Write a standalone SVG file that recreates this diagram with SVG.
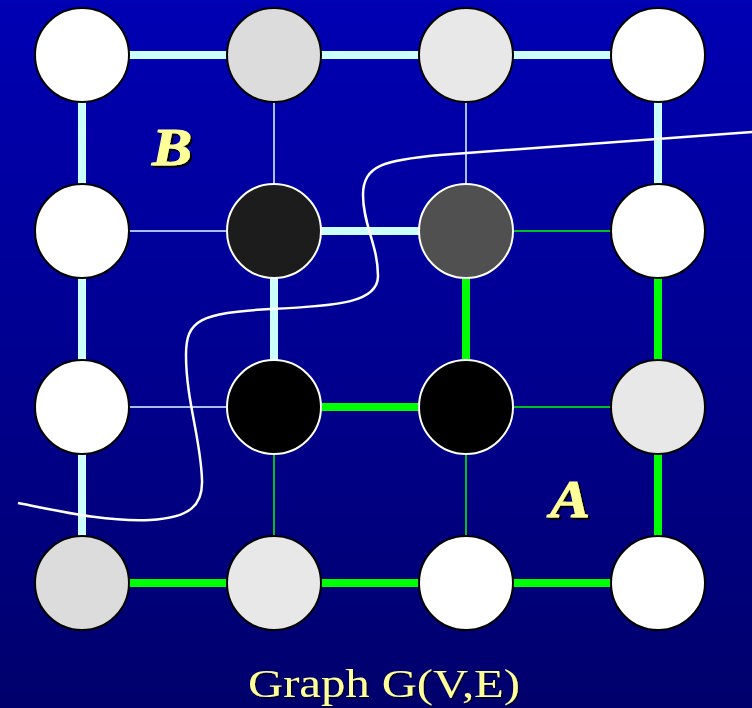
<svg xmlns="http://www.w3.org/2000/svg" width="752" height="708" viewBox="0 0 752 708">
<defs>
<linearGradient id="bg" x1="0" y1="0" x2="0" y2="1">
<stop offset="0" stop-color="#0000B4"/>
<stop offset="1" stop-color="#00006C"/>
</linearGradient>
<filter id="sh" x="-20%" y="-20%" width="150%" height="150%">
<feDropShadow dx="2" dy="2" stdDeviation="0" flood-color="#000000" flood-opacity="1"/>
</filter>
<filter id="sh2" x="-5%" y="-20%" width="110%" height="150%">
<feDropShadow dx="1.5" dy="1.5" stdDeviation="0.5" flood-color="#000022" flood-opacity="0.8"/>
</filter>
</defs>
<style>
.tc{stroke:#CCFFFF;stroke-width:8}
.tg{stroke:#00FF00;stroke-width:8}
.nc{stroke:#DDFFFF;stroke-width:1.5}
.ng{stroke:#00FF00;stroke-width:1.5}
.lt{stroke:#000000;stroke-width:2}
.dk{stroke:#FFFFFF;stroke-width:2}
.lbl{font-family:"Liberation Serif",serif;font-weight:bold;font-style:italic;font-size:52px;fill:#FFFF99;stroke:#FFFF99;stroke-width:1}
.cap{font-family:"Liberation Serif",serif;font-size:40px;fill:#FFFF99}
</style>
<rect width="752" height="708" fill="url(#bg)"/>
<g id="edges">
<line class="tc" x1="82" y1="55" x2="274" y2="55"/>
<line class="tc" x1="274" y1="55" x2="466" y2="55"/>
<line class="tc" x1="466" y1="55" x2="658" y2="55"/>
<line class="nc" x1="82" y1="231" x2="274" y2="231"/>
<line class="tc" x1="274" y1="231" x2="466" y2="231"/>
<line class="ng" x1="466" y1="231" x2="658" y2="231"/>
<line class="nc" x1="82" y1="407" x2="274" y2="407"/>
<line class="tg" x1="274" y1="407" x2="466" y2="407"/>
<line class="ng" x1="466" y1="407" x2="658" y2="407"/>
<line class="tg" x1="82" y1="583" x2="274" y2="583"/>
<line class="tg" x1="274" y1="583" x2="466" y2="583"/>
<line class="tg" x1="466" y1="583" x2="658" y2="583"/>
<line class="tc" x1="82" y1="55" x2="82" y2="231"/>
<line class="tc" x1="82" y1="231" x2="82" y2="407"/>
<line class="tc" x1="82" y1="407" x2="82" y2="583"/>
<line class="nc" x1="274" y1="55" x2="274" y2="231"/>
<line class="tc" x1="274" y1="231" x2="274" y2="407"/>
<line class="ng" x1="274" y1="407" x2="274" y2="583"/>
<line class="nc" x1="466" y1="55" x2="466" y2="231"/>
<line class="tg" x1="466" y1="231" x2="466" y2="407"/>
<line class="ng" x1="466" y1="407" x2="466" y2="583"/>
<line class="tc" x1="658" y1="55" x2="658" y2="231"/>
<line class="tg" x1="658" y1="231" x2="658" y2="407"/>
<line class="tg" x1="658" y1="407" x2="658" y2="583"/>
</g>
<path id="cut" d="M18,503 C60,511 105,522 150,520 C190,518 203,505 202,480 C201,440 186,400 186,355 C186,320 200,313 270,309 C340,306 378,302 378,276 C378,245 363,225 363,195 C363,165 385,160 440,155 L752,132" fill="none" stroke="#FFFFFF" stroke-width="2.5"/>
<g id="n00"><circle class="lt" cx="82" cy="55" r="47" fill="#FFFFFF"/></g>
<g id="n10"><circle class="lt" cx="274" cy="55" r="47" fill="#DCDCDC"/></g>
<g id="n20"><circle class="lt" cx="466" cy="55" r="47" fill="#E8E8E8"/></g>
<g id="n30"><circle class="lt" cx="658" cy="55" r="47" fill="#FFFFFF"/></g>
<g id="n01"><circle class="lt" cx="82" cy="231" r="47" fill="#FFFFFF"/></g>
<g id="n11"><circle class="dk" cx="274" cy="231" r="47" fill="#1C1C1C"/></g>
<g id="n21"><circle class="dk" cx="466" cy="231" r="47" fill="#505050"/></g>
<g id="n31"><circle class="lt" cx="658" cy="231" r="47" fill="#FFFFFF"/></g>
<g id="n02"><circle class="lt" cx="82" cy="407" r="47" fill="#FFFFFF"/></g>
<g id="n12"><circle class="dk" cx="274" cy="407" r="47" fill="#000000"/></g>
<g id="n22"><circle class="dk" cx="466" cy="407" r="47" fill="#000000"/></g>
<g id="n32"><circle class="lt" cx="658" cy="407" r="47" fill="#E8E8E8"/></g>
<g id="n03"><circle class="lt" cx="82" cy="583" r="47" fill="#DCDCDC"/></g>
<g id="n13"><circle class="lt" cx="274" cy="583" r="47" fill="#E8E8E8"/></g>
<g id="n23"><circle class="lt" cx="466" cy="583" r="47" fill="#FFFFFF"/></g>
<g id="n33"><circle class="lt" cx="658" cy="583" r="47" fill="#FFFFFF"/></g>
<g id="labelB">
<text class="lbl" x="152" y="165" filter="url(#sh)" textLength="40" lengthAdjust="spacingAndGlyphs">B</text>
</g>
<g id="labelA">
<text class="lbl" x="550" y="517" filter="url(#sh)" textLength="40" lengthAdjust="spacingAndGlyphs">A</text>
</g>
<g id="caption">
<text class="cap" x="248" y="697" filter="url(#sh2)" textLength="272" lengthAdjust="spacingAndGlyphs">Graph G(V,E)</text>
</g>
</svg>
